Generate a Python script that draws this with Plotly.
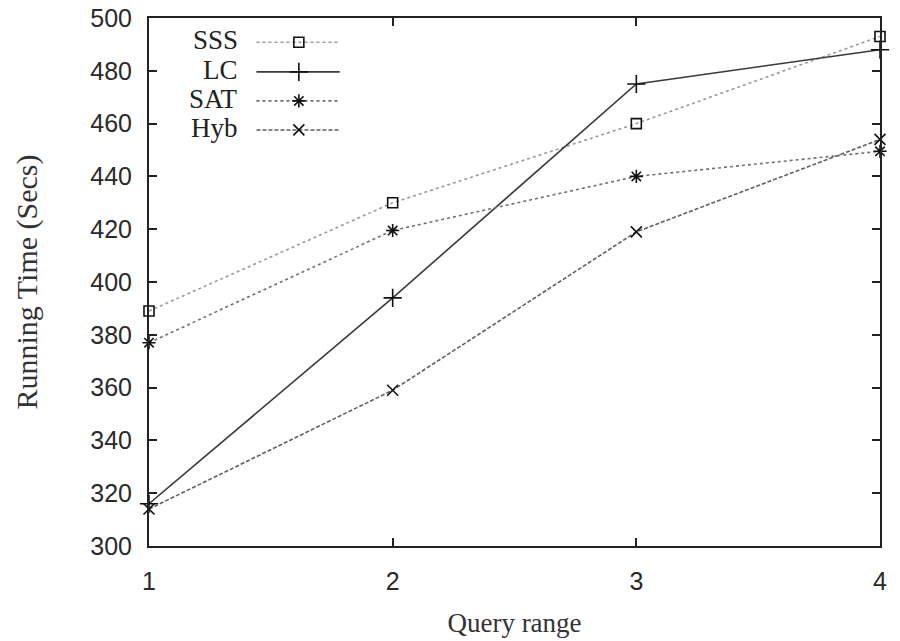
import plotly.graph_objects as go

query_range = [1, 2, 3, 4]
sss = [389, 430, 460, 493]
lc = [316, 394, 475, 488]
sat = [377, 419.5, 440, 449.5]
hyb = [314, 359, 419, 454]
series_names = ["SSS", "LC", "SAT", "Hyb"]
y_ticks = [300, 320, 340, 360, 380, 400, 420, 440, 460, 480, 500]

styles = {
    "SSS": dict(color="#9a9a9a", dash="dot", symbol="square-open", msize=10),
    "LC": dict(color="#3a3a3a", dash="solid", symbol="cross-thin-open", msize=13),
    "SAT": dict(color="#707070", dash="dot", symbol="asterisk-open", msize=11),
    "Hyb": dict(color="#606060", dash="4px,2px", symbol="x-thin-open", msize=11),
}
values = {"SSS": sss, "LC": lc, "SAT": sat, "Hyb": hyb}

fig = go.Figure()
for name in series_names:
    s = styles[name]
    fig.add_trace(go.Scatter(
        x=query_range, y=values[name], mode="lines+markers", name=name,
        line=dict(color=s["color"], dash=s["dash"], width=1.6),
        marker=dict(symbol=s["symbol"], size=s["msize"], color="#111",
                    line=dict(color="#111", width=1.6)),
        showlegend=False, cliponaxis=False,
    ))

# custom gnuplot-style legend on overlay axis (fractions of plot area)
leg_rows = [0.954, 0.898, 0.843, 0.788]
for name, ry in zip(series_names, leg_rows):
    s = styles[name]
    fig.add_trace(go.Scatter(
        x=[0.147, 0.261], y=[ry, ry], mode="lines", xaxis="x2", yaxis="y2",
        line=dict(color=s["color"], dash=s["dash"], width=1.6),
        showlegend=False, hoverinfo="skip"))
    fig.add_trace(go.Scatter(
        x=[0.205], y=[ry], mode="markers", xaxis="x2", yaxis="y2",
        marker=dict(symbol=s["symbol"], size=s["msize"], color="#111",
                    line=dict(color="#111", width=1.6)),
        showlegend=False, hoverinfo="skip"))
    fig.add_annotation(x=0.124, y=ry, xref="x2", yref="y2", yshift=2, text=name,
                       showarrow=False, xanchor="right", yanchor="middle",
                       font=dict(family="Liberation Serif", size=27, color="#222"))

axis_common = dict(showline=True, linecolor="#222", linewidth=2, mirror="ticks",
                   ticks="inside", ticklen=8, tickwidth=2, tickcolor="#222",
                   showgrid=False, zeroline=False, automargin=False,
                   tickfont=dict(family="Liberation Sans", size=25, color="#2a2a2a"))

fig.update_layout(
    width=900, height=641,
    margin=dict(l=149, r=20, t=18, b=95, autoexpand=False),
    paper_bgcolor="white", plot_bgcolor="white",
    xaxis=dict(range=[1, 4], tickvals=query_range, ticktext=[str(v) for v in query_range],
               ticklabelstandoff=12,
               title=dict(text="Query range", standoff=19,
                          font=dict(family="Liberation Serif", size=27, color="#333")),
               **axis_common),
    yaxis=dict(range=[300, 500], tickvals=y_ticks, ticklabelstandoff=10,
               title=dict(text="Running Time (Secs)", standoff=44,
                          font=dict(family="Liberation Serif", size=30, color="#333")),
               **axis_common),
    xaxis2=dict(range=[0, 1], overlaying="x", visible=False),
    yaxis2=dict(range=[0, 1], overlaying="y", visible=False),
)

fig.write_html("out.html")
